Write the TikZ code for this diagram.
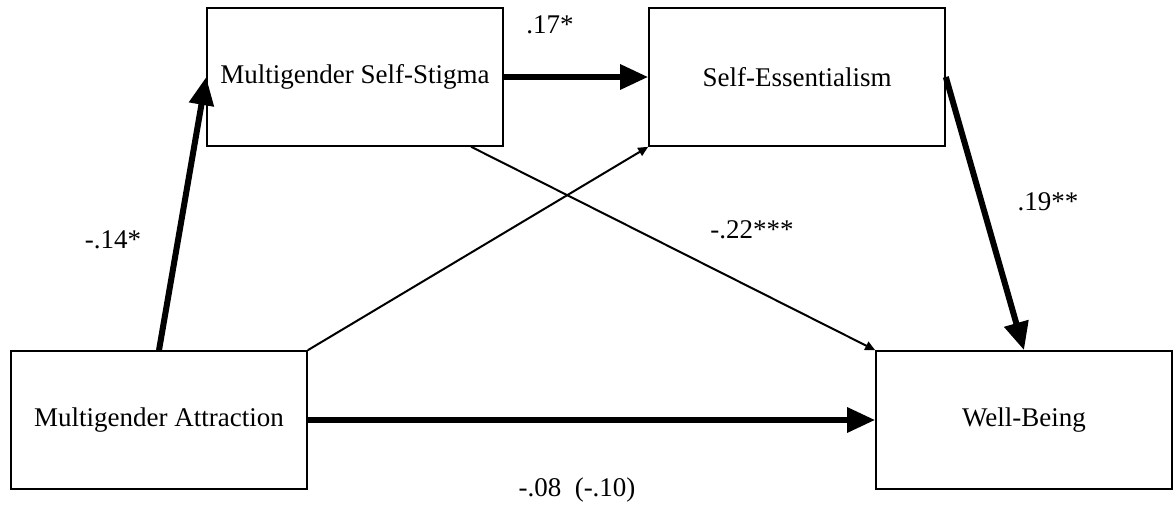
\documentclass[tikz,border=0pt]{standalone}
\usepackage{fontspec}
\setmainfont{Liberation Serif}
\usetikzlibrary{arrows.meta}

\tikzstyle{var} = [draw, thick, minimum width=148pt, minimum height=69pt, text centered, inner sep=0pt]
\tikzstyle{coef} = [draw=none, fill=none, text centered]
\tikzstyle{strong} = [line width=3pt, -{Triangle[length=14pt, width=12pt]}]
\tikzstyle{weak} = [line width=1pt, -{Triangle[length=5pt, width=4.5pt]}]

\begin{document}
\begin{tikzpicture}[x=0.5pt, y=-0.5pt, font=\fontsize{13.5}{16}\selectfont]
    \useasboundingbox (0,0) rectangle (1173,508);
    % variables
    \node[var] (stigma) at (355,77) {Multigender Self-Stigma};
    \node[var] (ess) at (797,77) {Self-Essentialism};
    \node[var] (attr) at (159,420) {Multigender Attraction};
    \node[var] (well) at (1024,420) {Well-Being};
    % paths
    \draw[strong] (attr.north) -- (stigma.west);
    \draw[strong] (stigma.east) -- (ess.west);
    \draw[strong] (ess.east) -- (well.north);
    \draw[strong] (attr.east) -- (well.west);
    \draw[weak] (attr.north east) -- (ess.south west);
    \draw[weak] (stigma.-31) -- (well.north west);
    % coefficients
    \node[coef] (c1) at (113,240) {-.14*};
    \node[coef] (c2) at (550,25) {.17*};
    \node[coef] (c3) at (1048,202) {.19**};
    \node[coef] (c4) at (752,230) {-.22***};
    \node[coef] (c5) at (577,490) {-.08\ \ (-.10)};
\end{tikzpicture}
\end{document}
